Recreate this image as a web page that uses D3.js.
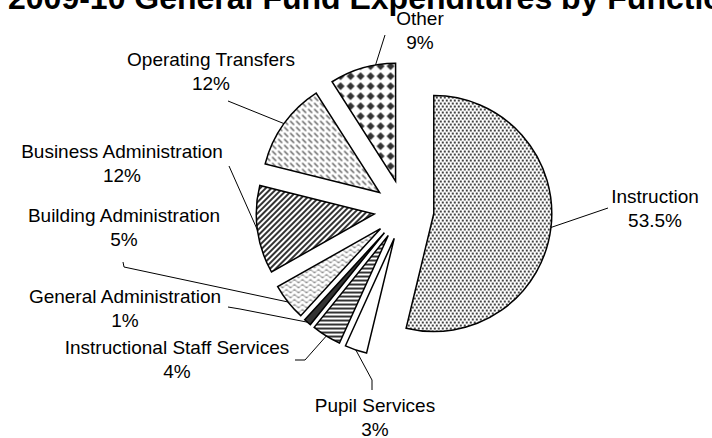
<!DOCTYPE html>
<html>
<head>
<meta charset="utf-8">
<script src="https://cdn.jsdelivr.net/npm/d3@7"></script>
<style>
  body { margin: 0; background: #fff; }
  svg { display: block; font-family: "Liberation Sans", Arial, sans-serif; }
</style>
</head>
<body>
<div id="chart"></div>
<script>
const categories = ["Instruction", "Pupil Services", "Instructional Staff Services", "General Administration",
  "Building Administration", "Business Administration", "Operating Transfers", "Other"];
const shares = [53.5, 3, 4, 1, 5, 12, 12, 9];
const patterns = ["dots", "blank", "hstripes", "solid", "waves", "wdiag", "dashdiag", "diamonds"];

// label anchors and leader bends (from label side towards the slice)
const labelLayout = [
  { x: 655, y: 203, leader: [[608, 208]] },
  { x: 375, y: 412, leader: [[372, 390], [372, 380]] },
  { x: 177, y: 354, leader: [[295, 360], [305, 360]] },
  { x: 125, y: 303, leader: [[228, 307], [240, 309]] },
  { x: 124, y: 222, leader: [[123, 262], [124, 267]] },
  { x: 122, y: 158, leader: [[229, 166]] },
  { x: 211, y: 66, leader: [[228, 101]] },
  { x: 420, y: 25, leader: [[385, 35]], at: 0.7 }
];

const width = 712, height = 438;
const cx = 404, cy = 210, radius = 118, explode = 30;

const svg = d3.select("#chart").append("svg")
  .attr("width", width)
  .attr("height", height);

const defs = svg.append("defs");

function pattern(id, w, h) {
  const p = defs.append("pattern")
    .attr("id", id)
    .attr("patternUnits", "userSpaceOnUse")
    .attr("width", w)
    .attr("height", h);
  p.append("rect").attr("width", w).attr("height", h).attr("fill", "#fff");
  return p;
}

let p = pattern("dots", 4, 6);
p.append("rect").attr("x", 0).attr("y", 0).attr("width", 2).attr("height", 2).attr("fill", "#444");
p.append("rect").attr("x", 2).attr("y", 3).attr("width", 2).attr("height", 2).attr("fill", "#444");

pattern("blank", 4, 4);

p = pattern("hstripes", 4, 4);
p.append("rect").attr("width", 4).attr("height", 2).attr("fill", "#333");

p = pattern("solid", 4, 4);
p.append("rect").attr("width", 4).attr("height", 4).attr("fill", "#333");

p = pattern("waves", 8, 5);
p.append("path")
  .attr("d", "M0,2.5 C1.3,0.6 2.7,0.6 4,2.5 S6.7,4.4 8,2.5")
  .attr("fill", "none").attr("stroke", "#555").attr("stroke-width", 1);

p = pattern("wdiag", 4, 4).attr("patternTransform", "rotate(45)");
p.append("rect").attr("width", 2).attr("height", 4).attr("fill", "#333");

p = pattern("dashdiag", 6, 6);
p.append("line").attr("x1", 0.5).attr("y1", 0.5).attr("x2", 4.5).attr("y2", 4.5)
  .attr("stroke", "#555").attr("stroke-width", 1.2);

p = pattern("diamonds", 10, 10);
p.append("path").attr("d", "M5,1 L9,5 L5,9 L1,5 Z").attr("fill", "#333");

// title (cut at the top edge as in the original)
svg.append("text")
  .attr("x", 8)
  .attr("y", 9)
  .attr("font-size", 32)
  .attr("font-weight", "bold")
  .attr("fill", "#000")
  .text("2009-10 General Fund Expenditures by Function");

const pie = d3.pie().sort(null).value(d => d)(shares);
const arc = d3.arc().innerRadius(0).outerRadius(radius);

const g = svg.append("g").attr("transform", `translate(${cx},${cy})`);

function midAngle(d) { return (d.startAngle + d.endAngle) / 2; }

const slices = g.selectAll("g.slice")
  .data(pie)
  .enter()
  .append("g")
  .attr("class", "slice")
  .attr("transform", d => {
    const a = midAngle(d);
    return `translate(${Math.sin(a) * explode},${-Math.cos(a) * explode})`;
  });

slices.append("path")
  .attr("d", arc)
  .attr("fill", (d, i) => `url(#${patterns[i]})`)
  .attr("stroke", "#000")
  .attr("stroke-width", 1.5)
  .attr("stroke-linejoin", "miter");

// leader lines
pie.forEach((d, i) => {
  const m = midAngle(d);
  const f = labelLayout[i].at;
  const a = f == null ? m : d.startAngle + (d.endAngle - d.startAngle) * f;
  const sx = cx + Math.sin(m) * explode + Math.sin(a) * radius;
  const sy = cy - Math.cos(m) * explode - Math.cos(a) * radius;
  const pts = labelLayout[i].leader.concat([[sx, sy]]);
  svg.append("path")
    .attr("d", d3.line()(pts))
    .attr("fill", "none")
    .attr("stroke", "#000")
    .attr("stroke-width", 1);
});

// labels
categories.forEach((c, i) => {
  const l = labelLayout[i];
  const t = svg.append("text")
    .attr("text-anchor", "middle")
    .attr("font-size", 19)
    .attr("fill", "#000");
  t.append("tspan").attr("x", l.x).attr("y", l.y).text(c);
  t.append("tspan").attr("x", l.x).attr("y", l.y + 24).text(shares[i] + "%");
});
</script>
</body>
</html>
